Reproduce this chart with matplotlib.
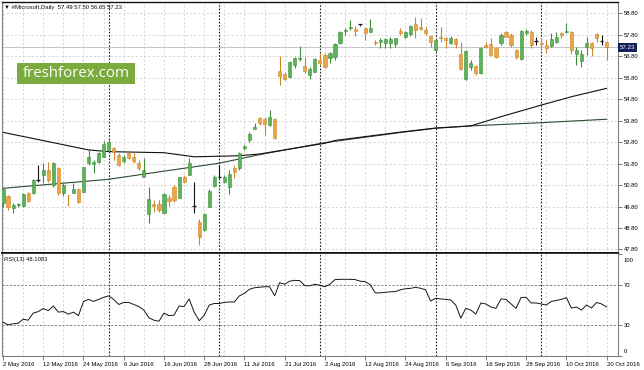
import matplotlib
matplotlib.use("Agg")
import matplotlib.pyplot as plt
from matplotlib.patches import Rectangle
from matplotlib.transforms import ScaledTranslation, blended_transform_factory
import numpy as np

plt.rcParams['font.family'] = ['Liberation Sans', 'DejaVu Sans']

# === DATA (#Microsoft daily, 2 May - 20 Oct 2016) ===
opens = [49.98, 50.30, 49.72, 49.86, 49.83, 50.45, 50.42, 51.00, 51.27, 51.50,
         50.81, 51.58, 50.45, 50.36, 50.45, 50.60, 50.49, 51.85, 51.78, 51.89,
         52.13, 52.44, 52.55, 52.20, 51.94, 52.28, 52.09, 51.85, 51.19, 49.45,
         49.90, 49.92, 49.52, 50.21, 50.73, 50.18, 51.16, 51.27, 49.81, 49.09,
         48.71, 49.79, 50.76, 51.17, 50.96, 50.70, 51.58, 51.58, 52.54, 52.90,
         53.40, 53.91, 53.90, 53.60, 53.87, 56.13, 55.96, 55.85, 56.40, 56.68,
         56.35, 55.93, 56.09, 56.63, 56.87, 56.74, 56.79, 57.41, 58.00, 58.11,
         58.08, 58.28, 58.11, 57.95, 57.49, 57.46, 57.44, 57.41, 57.36, 57.98,
         57.72, 57.83, 58.31, 58.19, 58.03, 57.75, 57.10, 57.72, 57.64, 57.41,
         57.61, 56.90, 55.75, 56.29, 56.35, 56.01, 57.33, 57.36, 57.18, 57.41,
         57.95, 57.80, 57.10, 56.66, 57.88, 57.95, 57.49, 57.44, 57.33, 57.28,
         57.49, 57.88, 57.95, 57.95, 56.91, 56.60, 57.25, 57.41, 57.83, 57.49,
         57.49]
highs = [50.72, 50.36, 49.95, 49.98, 50.42, 50.50, 51.10, 51.74, 51.81, 51.89,
         51.89, 51.66, 50.88, 50.36, 50.88, 50.65, 51.66, 52.47, 51.97, 52.36,
         52.86, 52.93, 52.59, 52.28, 52.20, 52.36, 52.36, 51.97, 52.05, 50.70,
         50.10, 50.10, 50.41, 50.34, 50.80, 51.19, 51.27, 52.05, 50.96, 49.20,
         49.48, 50.60, 51.27, 51.74, 51.27, 51.50, 51.74, 52.36, 52.65, 53.29,
         53.68, 53.99, 53.99, 54.30, 53.91, 56.82, 56.09, 56.60, 56.76, 57.28,
         56.79, 56.32, 56.71, 56.94, 56.94, 57.02, 57.41, 57.98, 58.11, 58.50,
         58.23, 58.33, 58.14, 58.54, 57.56, 57.67, 57.64, 57.72, 57.67, 58.14,
         57.98, 58.26, 58.65, 58.61, 58.19, 57.80, 57.61, 58.19, 57.72, 57.77,
         57.64, 57.49, 57.10, 56.63, 56.40, 57.25, 57.49, 57.67, 57.25, 57.88,
         58.00, 57.88, 57.13, 58.03, 58.06, 58.03, 57.72, 57.64, 57.56, 57.91,
         57.95, 57.93, 58.37, 58.00, 57.25, 57.10, 57.69, 57.49, 57.91, 57.80,
         57.50]
lows = [49.78, 49.64, 49.48, 49.78, 49.80, 50.00, 50.38, 50.96, 50.88, 50.96,
        50.73, 50.34, 50.29, 49.83, 50.42, 49.95, 50.49, 51.74, 51.35, 51.85,
        52.09, 52.36, 51.97, 51.70, 51.81, 52.00, 51.81, 51.50, 51.16, 49.05,
        49.56, 49.56, 49.49, 49.83, 50.03, 50.18, 50.91, 51.27, 49.52, 48.00,
        48.68, 49.76, 50.70, 51.12, 50.91, 50.39, 51.12, 51.50, 52.45, 52.82,
        53.40, 53.60, 53.13, 53.55, 52.93, 55.47, 55.72, 55.78, 56.24, 56.60,
        56.01, 55.73, 56.05, 56.40, 56.24, 56.48, 56.63, 57.36, 57.80, 58.03,
        57.77, 58.22, 57.56, 57.95, 57.33, 57.21, 57.21, 57.18, 57.25, 57.80,
        57.64, 57.77, 57.64, 58.03, 57.80, 57.25, 57.02, 57.49, 57.18, 57.36,
        57.18, 56.17, 55.70, 56.17, 55.93, 55.98, 57.18, 56.82, 56.71, 57.33,
        57.69, 57.25, 56.66, 56.63, 57.80, 57.18, 57.33, 57.10, 56.94, 57.25,
        57.41, 57.64, 57.88, 56.91, 56.40, 56.32, 56.87, 56.82, 57.49, 57.33,
        56.65]
closes = [50.61, 49.78, 49.87, 49.92, 50.39, 50.07, 51.04, 51.02, 51.50, 51.04,
          51.81, 50.42, 50.81, 50.32, 50.60, 50.03, 51.63, 52.13, 51.89, 52.28,
          52.70, 52.82, 52.36, 51.74, 52.13, 52.05, 51.94, 51.58, 51.50, 50.14,
          49.83, 49.64, 50.38, 50.06, 50.10, 51.16, 50.96, 51.85, 49.83, 48.40,
          49.44, 50.54, 51.19, 51.16, 51.16, 51.32, 51.43, 52.28, 52.60, 53.18,
          53.52, 53.71, 53.65, 53.96, 52.98, 55.89, 55.75, 56.55, 56.71, 56.73,
          56.13, 56.20, 56.66, 56.51, 56.32, 56.94, 57.36, 57.95, 58.05, 58.19,
          57.98, 58.30, 57.88, 58.11, 57.41, 57.56, 57.60, 57.60, 57.64, 57.88,
          57.95, 58.22, 58.03, 58.08, 57.88, 57.46, 57.56, 57.64, 57.56, 57.64,
          57.36, 56.21, 57.05, 56.51, 56.01, 57.18, 57.25, 56.87, 56.76, 57.80,
          57.72, 57.33, 56.76, 58.00, 58.00, 57.33, 57.50, 57.36, 57.18, 57.60,
          57.69, 57.80, 58.00, 57.10, 57.10, 56.89, 57.44, 57.18, 57.64, 57.50,
          57.23]

rsi_values = [33, 30.5, 31.5, 32, 36, 35, 42, 43.5, 46.5, 44.5,
              49, 43, 43.5, 41, 43, 39.5, 53.5, 55.5, 53.5, 55.5,
              57.5, 59, 55.5, 50.5, 52.5, 52.5, 50.5, 48.5, 45, 37.5,
              35, 34, 42, 39.5, 40, 49, 48.5, 56, 43, 34.5,
              40, 50, 51.5, 51.5, 52.5, 53, 53, 59, 61.5, 65.5,
              67, 67.5, 68, 68, 59, 72, 70.5, 73.5, 74.3, 74,
              69, 69, 70.4, 69.5, 68, 70.5, 75, 75.3, 75.3, 75.3,
              75, 73.5, 73, 70, 62, 62, 62.5, 63, 63.2, 65,
              66, 66.4, 67.4, 66.5, 65, 54, 56.6, 56, 55.5, 55,
              50, 37, 46.7, 45, 41, 52, 51, 48, 46.7, 56,
              55.5, 51, 46.7, 57.5, 57.5, 52, 52, 51, 50, 53.5,
              54.5, 55.5, 57.3, 47, 48, 45, 50, 47, 52.5, 51,
              48.1]

ma_fast_idx = [0, 17, 21, 32, 38, 44, 47, 51, 64, 66, 79, 86, 93, 99, 107, 113, 120]
ma_fast_val = [53.26, 52.44, 52.36, 52.31, 52.12, 52.15, 52.17, 52.25, 52.75, 52.88,
               53.27, 53.46, 53.56, 53.99, 54.53, 54.92, 55.31]
ma_slow_idx = [0, 21, 32, 43, 51, 64, 79, 86, 93, 107, 120]
ma_slow_val = [50.65, 51.07, 51.45, 51.82, 52.22, 52.78, 53.25, 53.45, 53.56, 53.71, 53.87]

date_labels = ["2 May 2016", "12 May 2016", "24 May 2016", "6 Jun 2016", "16 Jun 2016",
               "28 Jun 2016", "11 Jul 2016", "21 Jul 2016", "2 Aug 2016", "12 Aug 2016",
               "24 Aug 2016", "6 Sep 2016", "16 Sep 2016", "28 Sep 2016", "10 Oct 2016",
               "20 Oct 2016"]
price_ticks = [47.80, 48.80, 49.80, 50.80, 51.80, 52.80, 53.80, 54.80, 55.80, 56.80, 57.80, 58.80]
month_starts = [21, 43, 63, 86, 107]
rsi_ticks = [0, 30, 70, 100]
last_price = 57.23

# === FIGURE ===
W, H = 644, 370
fig = plt.figure(figsize=(W / 100, H / 100), dpi=100)


def px_box(x0, y0, x1, y1):
    return [x0 / W, (H - y1) / H, (x1 - x0) / W, (y1 - y0) / H]


ax = fig.add_axes(px_box(2, 2, 617.7, 253))
ax2 = fig.add_axes(px_box(2, 253, 617.7, 356))

GRID = '#cfcfcf'
UP_FACE, UP_EDGE = '#5db35a', '#3f8f3c'
DN_FACE, DN_EDGE = '#eba548', '#c98629'

n = len(opens)
x = np.arange(n)
o = np.array(opens)
h = np.array(highs)
l = np.array(lows)
c = np.array(closes)

for a in (ax, ax2):
    a.set_xlim(-0.2, 122.2)
    for g in range(0, n, 4):
        a.axvline(g, color=GRID, lw=0.6, dashes=(2.5, 2.5), zorder=0)
    for m in month_starts:
        a.axvline(m, color='#222222', lw=0.8, dashes=(1.5, 1.5), zorder=1)

# main panel
ax.set_ylim(47.634, 59.336)
for p in price_ticks:
    ax.axhline(p, color=GRID, lw=0.6, dashes=(2.5, 2.5), zorder=0)
ax.axhline(last_price, color='#c4c4c4', lw=0.7, zorder=1)

ax.plot(ma_slow_idx, ma_slow_val, color='#2f4a2f', lw=0.8, zorder=2)
ax.plot(ma_fast_idx, ma_fast_val, color='#111111', lw=0.8, zorder=2)

doji = np.abs(c - o) < 0.035
up = (c > o) & ~doji
dn = (c < o) & ~doji
wick_col = np.where(doji, '#111111', np.where(up, UP_EDGE, DN_EDGE))
ax.vlines(x, l, h, colors=wick_col, lw=0.8, zorder=3)
body_lo = np.minimum(o, c)
body_h = np.maximum(np.abs(c - o), 0.03)
ax.bar(x[up], body_h[up], bottom=body_lo[up], width=0.62, color=UP_FACE,
       edgecolor=UP_EDGE, lw=0.4, zorder=4)
ax.bar(x[dn], body_h[dn], bottom=body_lo[dn], width=0.62, color=DN_FACE,
       edgecolor=DN_EDGE, lw=0.4, zorder=4)
ax.hlines(c[doji], x[doji] - 0.35, x[doji] + 0.35, colors='#111111', lw=0.9, zorder=4)

ax.yaxis.tick_right()
ax.set_yticks(price_ticks)
ax.set_yticklabels([f"{p:.2f}" for p in price_ticks])
ax.tick_params(axis='y', direction='out', length=3, width=0.5, pad=1.5,
               labelsize=4.2, color='#444444')
ax.set_xticks([])

trans = blended_transform_factory(ax.transAxes, ax.transData)
ax.text(1.004, last_price, f"{last_price:.2f}", transform=trans, ha='left', va='center',
        color='white', fontsize=4.4,
        bbox=dict(facecolor='#13205e', edgecolor='none', pad=1.3))

# RSI panel
ax2.set_ylim(-0.25, 101.23)
ax2.plot(x, rsi_values, color='#151515', lw=0.7, zorder=3)
for lv in (30, 70):
    ax2.axhline(lv, color='#6a6a6a', lw=0.6, dashes=(2.5, 2), zorder=1)
ax2.yaxis.tick_right()
ax2.set_yticks(rsi_ticks)
ax2.set_yticklabels([str(t) for t in rsi_ticks])
ax2.tick_params(axis='y', direction='out', length=3, width=0.5, pad=1.5,
                labelsize=4.2, color='#444444')
for lab, t in zip(ax2.get_yticklabels(), rsi_ticks):
    if t == 100:
        lab.set_transform(lab.get_transform() + ScaledTranslation(0, -4 / 72, fig.dpi_scale_trans))
    elif t == 0:
        lab.set_transform(lab.get_transform() + ScaledTranslation(0, 3.5 / 72, fig.dpi_scale_trans))

ax2.set_xticks(list(range(0, n, 8)))
ax2.set_xticklabels(date_labels, ha='left')
ax2.tick_params(axis='x', direction='out', length=3, width=0.5, pad=1.2,
                labelsize=4.3, color='#444444')

for a in (ax, ax2):
    for s in ('left', 'right'):
        a.spines[s].set_color('#808080')
        a.spines[s].set_linewidth(0.8)
ax.spines['top'].set_color('#111111')
ax.spines['top'].set_linewidth(1.0)
ax.spines['bottom'].set_color('#111111')
ax.spines['bottom'].set_linewidth(1.2)
ax2.spines['top'].set_color('#111111')
ax2.spines['top'].set_linewidth(1.2)
ax2.spines['bottom'].set_color('#808080')
ax2.spines['bottom'].set_linewidth(0.8)

# texts
fig.text(4 / W, 1 - 7 / H, "\u25bc #Microsoft,Daily  57.49 57.50 56.65 57.23",
         ha='left', va='center', fontsize=4.3, color='#111111')
fig.text(4 / W, 1 - 259 / H, "RSI(13) 48.1083", ha='left', va='center',
         fontsize=4.2, color='#111111')

# watermark
fig.patches.append(Rectangle((16.7 / W, 1 - 84 / H), 118.3 / W, 21.3 / H,
                             transform=fig.transFigure, facecolor='#7aab3c',
                             edgecolor='none', zorder=5))
fig.text(75.8 / W, 1 - 73.5 / H, "freshforex.com", ha='center', va='center',
         color='white', fontsize=10.8, family=['Open Sans', 'DejaVu Sans'], zorder=6)

fig.savefig("out.png", dpi=100, facecolor='white')
